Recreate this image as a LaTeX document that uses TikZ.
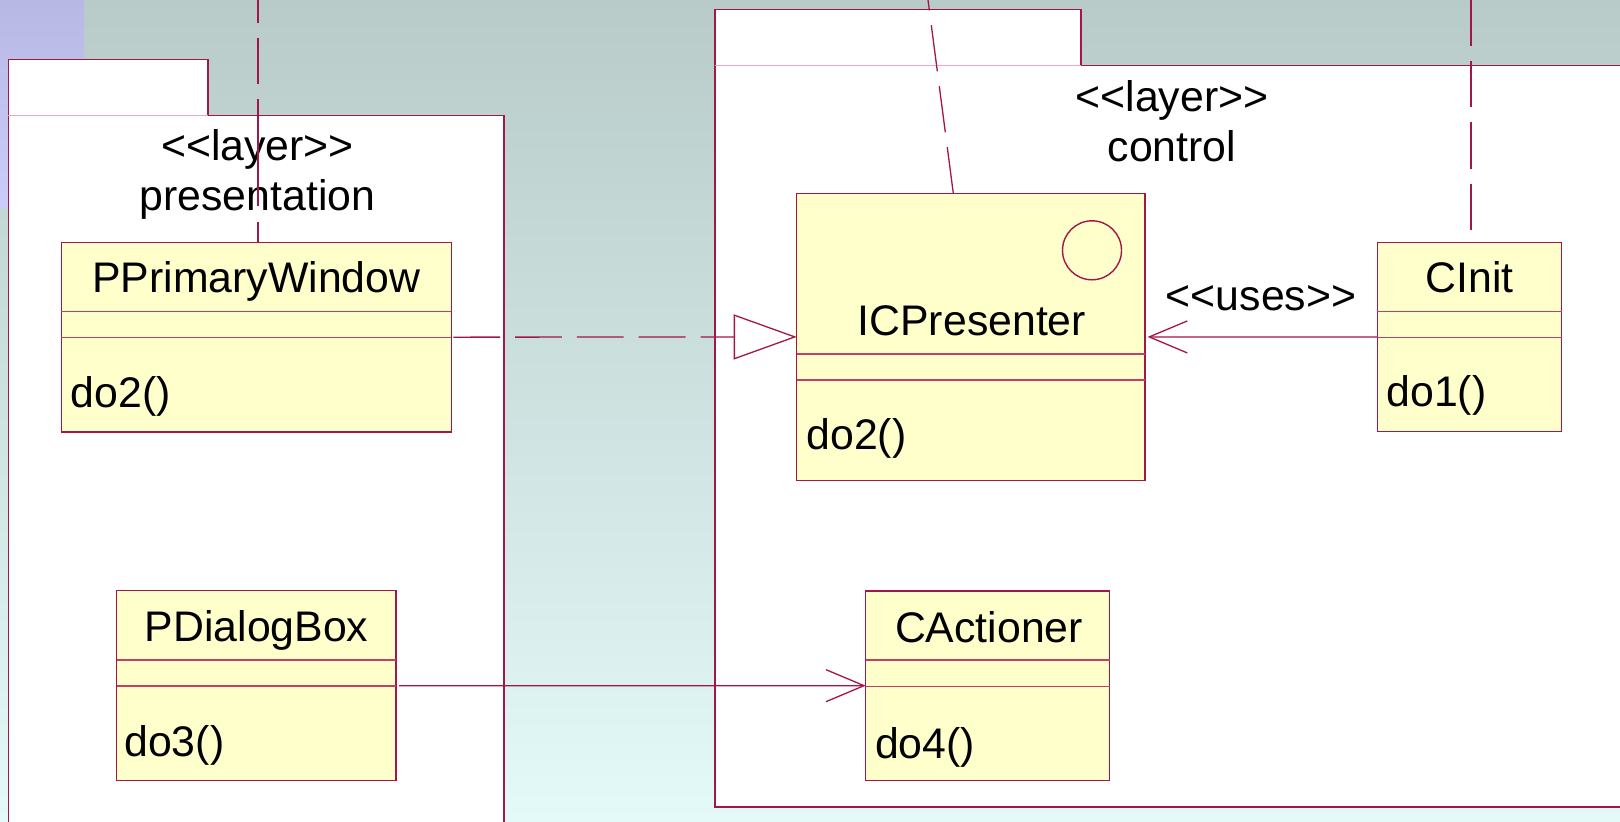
\documentclass[tikz,border=0pt]{standalone}
\usepackage{fontspec}
\setmainfont{Liberation Sans}[Ligatures=TeXOff]
\usetikzlibrary{arrows.meta,calc}

\definecolor{crim}{RGB}{163,22,72}
\definecolor{sepcol}{RGB}{196,62,104}
\definecolor{tabline}{RGB}{236,168,192}
\definecolor{boxfill}{RGB}{255,255,204}
\definecolor{bgtop}{RGB}{184,203,201}
\definecolor{bgbot}{RGB}{228,250,248}
\definecolor{lavtop}{RGB}{184,184,228}
\definecolor{lavbot}{RGB}{204,204,250}

\begin{document}
\begin{tikzpicture}[x=0.5pt,y=-0.5pt,
  cls/.style={draw=crim, fill=boxfill, line width=0.7pt, inner sep=0pt, outer sep=0pt, rectangle},
  txt/.style={inner sep=0pt, font=\fontsize{21.4pt}{25pt}\selectfont, text=black},
  clsname/.style={txt, anchor=base},
  clsop/.style={txt, anchor=base west},
  sepline/.style={draw=sepcol, line width=0.6pt},
  pkgline/.style={draw=crim, line width=0.7pt},
  conn/.style={draw=crim, line width=0.65pt},
  dashlink/.style={conn, dash pattern=on 23.25pt off 7.5pt},
  openarrow/.style={-{Straight Barb[length=19pt, width=16pt]}},
]
\useasboundingbox (0,0) rectangle (1620,821);
\clip (0,0) rectangle (1620,821);

% background
\shade[top color=bgtop, bottom color=bgbot] (0,0) rectangle (1620,821);
\shade[top color=lavtop, bottom color=lavbot] (0,0) rectangle (84,207);

% package: presentation
\fill[white] (8.3,59.3) rectangle (208,115.5);
\fill[white] (8.3,115.5) rectangle (504,840);
\draw[pkgline] (8.3,840) -- (8.3,59.3) -- (208,59.3) -- (208,115.5) -- (504,115.5) -- (504,840);
\draw[tabline, line width=0.6pt] (8.3,115.5) -- (208,115.5);
\node[clsname] (pkgpstereo) at (257.5,160.7) {<<layer>>};
\node[clsname] (pkgpname) at (257.5,210.7) {presentation};

% package: control
\fill[white] (715,9.7) rectangle (1081,65.5);
\fill[white] (715,65.5) rectangle (1640,807);
\draw[pkgline] (1640,807) -- (715,807) -- (715,9.7) -- (1081,9.7) -- (1081,65.5) -- (1640,65.5);
\draw[tabline, line width=0.6pt] (715,65.5) -- (1081,65.5);
\node[clsname] (pkgcstereo) at (1172,111) {<<layer>>};
\node[clsname] (pkgcname) at (1172,161) {control};

% classes
\node[cls, minimum width=195pt, minimum height=94.85pt] (ppw) at (256.3,337.15) {};
\draw[sepline] ($(ppw.north west)+(0,69.4)$) -- ($(ppw.north east)+(0,69.4)$);
\draw[sepline] ($(ppw.north west)+(0,95.4)$) -- ($(ppw.north east)+(0,95.4)$);
\node[clsname] (ppwname) at (256.3,292.7) {PPrimaryWindow};
\node[clsop] (ppwop) at (70.3,407.5) {do2()};

\node[cls, minimum width=174.15pt, minimum height=143.6pt] (icp) at (970.85,336.9) {};
\draw[sepline] ($(icp.north west)+(0,160.7)$) -- ($(icp.north east)+(0,160.7)$);
\draw[sepline] ($(icp.north west)+(0,186.7)$) -- ($(icp.north east)+(0,186.7)$);
\node[draw=crim, line width=0.7pt, circle, minimum size=29.5pt, inner sep=0pt] (icpicon) at (1092,250.3) {};
\node[clsname] (icpname) at (971.8,335.7) {ICPresenter};
\node[clsop] (icpop) at (806,449.5) {do2()};

\node[cls, minimum width=92.2pt, minimum height=94.7pt] (cinit) at (1469.5,337) {};
\draw[sepline] ($(cinit.north west)+(0,69.2)$) -- ($(cinit.north east)+(0,69.2)$);
\draw[sepline] ($(cinit.north west)+(0,95.4)$) -- ($(cinit.north east)+(0,95.4)$);
\node[clsname] (cinitname) at (1469.8,292.7) {CInit};
\node[clsop] (cinitop) at (1386,406.8) {do1()};

\node[cls, minimum width=139.75pt, minimum height=95pt] (pdb) at (256.25,685.7) {};
\draw[sepline] ($(pdb.north west)+(0,69.3)$) -- ($(pdb.north east)+(0,69.3)$);
\draw[sepline] ($(pdb.north west)+(0,95.3)$) -- ($(pdb.north east)+(0,95.3)$);
\node[clsname] (pdbname) at (256.6,641.7) {PDialogBox};
\node[clsop] (pdbop) at (124,756.7) {do3()};

\node[cls, minimum width=122pt, minimum height=94.65pt] (cact) at (987.7,685.65) {};
\draw[sepline] ($(cact.north west)+(0,69)$) -- ($(cact.north east)+(0,69)$);
\draw[sepline] ($(cact.north west)+(0,95.3)$) -- ($(cact.north east)+(0,95.3)$);
\node[clsname] (cactname) at (989,642.3) {CActioner};
\node[clsop] (cactop) at (874.6,758.3) {do4()};

% dependency lines leaving the top edge
\coordinate (ppwtop) at (258,-6);
\coordinate (icptop) at (926.7,-10);
\coordinate (cinittop) at (1471,-6);
\draw[conn, dash pattern=on 10pt off 8pt on 53.5pt off 7.5pt on 23pt off 7.5pt on 23pt off 7.5pt]
  ([xshift=0.85pt]ppw.north) -- (ppwtop);
\draw[dashlink] ([xshift=-8.78pt]icp.north) -- (icptop);
\draw[dashlink, dash phase=24.75pt] ([xshift=0.75pt]cinit.north) -- (cinittop);

% realization: PPrimaryWindow -> ICPresenter
\draw[conn, dash pattern=on 23.4pt off 7.5pt, shorten <=1pt,
  -{Triangle[open, length=31.5pt, width=22.5pt]}] (ppw.east) -- (icp.west);

% usage: CInit -> ICPresenter
\draw[conn, openarrow, shorten >=1.3pt] (cinit.west) --
  node[txt, anchor=base, yshift=13.2pt] (useslbl) {<<uses>>} (icp.east);

% association: PDialogBox -> CActioner
\draw[conn, openarrow, shorten <=1.5pt] (pdb.east) -- (cact.west);
\end{tikzpicture}
\end{document}
